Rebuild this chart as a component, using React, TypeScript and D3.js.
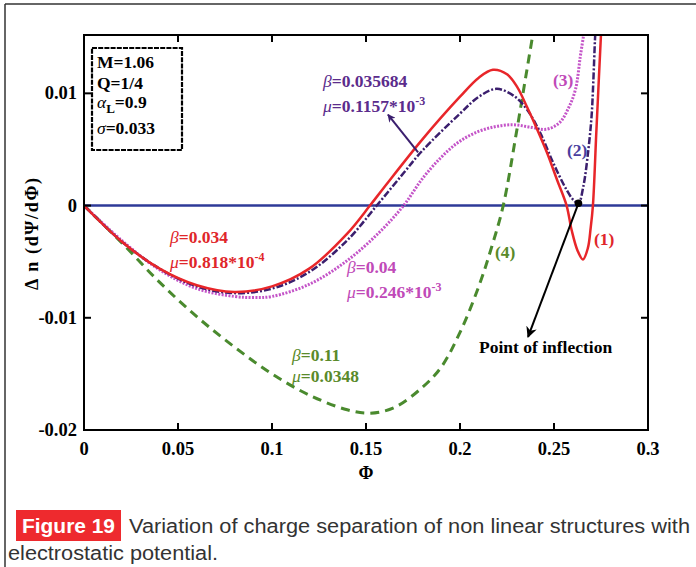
import * as d3 from 'd3';

// curve (1) beta=0.034
const phi1 = [0, 0.02, 0.04, 0.06, 0.08, 0.1, 0.12, 0.14, 0.1521, 0.16, 0.18, 0.2, 0.21, 0.2175, 0.225, 0.2303, 0.2356, 0.241, 0.2463, 0.2516, 0.2567, 0.2594, 0.2625, 0.2654, 0.268, 0.2695, 0.2707, 0.2725, 0.274, 0.2755];
const dn1 = [0, -0.0032, -0.0056, -0.0071, -0.0077, -0.0072, -0.0056, -0.0025, 0, 0.0017, 0.0059, 0.0097, 0.0114, 0.0121, 0.0117, 0.0106, 0.0088, 0.0068, 0.0047, 0.0023, 0, -0.0022, -0.004, -0.0048, -0.0038, -0.002, 0, 0.0065, 0.0118, 0.017];

// curve (2) beta=0.035684
const phi2 = [0, 0.02, 0.04, 0.06, 0.08, 0.1, 0.12, 0.14, 0.1557, 0.17, 0.18, 0.2, 0.21, 0.2195, 0.2284, 0.2355, 0.2426, 0.2496, 0.2567, 0.2603, 0.263, 0.2656, 0.2683, 0.27, 0.2709, 0.2718, 0.2725];
const dn2 = [0, -0.0032, -0.0056, -0.0072, -0.0078, -0.0074, -0.0059, -0.0031, 0, 0.0029, 0.0049, 0.0082, 0.0097, 0.0104, 0.0098, 0.0086, 0.0065, 0.0038, 0.0014, 0.0005, 0.0002, 0.0017, 0.005, 0.008, 0.011, 0.0148, 0.017];

// curve (3) beta=0.04
const phi3 = [0, 0.02, 0.04, 0.06, 0.08, 0.09, 0.1, 0.12, 0.14, 0.157, 0.17, 0.18, 0.1894, 0.198, 0.207, 0.2177, 0.228, 0.237, 0.246, 0.253, 0.258, 0.2615, 0.264, 0.266, 0.267];
const dn3 = [0, -0.0031, -0.0057, -0.0074, -0.0081, -0.0082, -0.0081, -0.007, -0.0049, -0.0024, 0, 0.0024, 0.0042, 0.0055, 0.0064, 0.007, 0.0072, 0.007, 0.0068, 0.0074, 0.0088, 0.0104, 0.0133, 0.0155, 0.017];

// curve (4) beta=0.11
const phi4 = [0, 0.02, 0.04, 0.06, 0.08, 0.1, 0.12, 0.14, 0.152, 0.165, 0.18, 0.19, 0.2, 0.21, 0.217, 0.223, 0.23, 0.235, 0.239, 0.241];
const dn4 = [0, -0.0033, -0.0068, -0.0099, -0.0126, -0.015, -0.0169, -0.0182, -0.0185, -0.018, -0.0162, -0.0144, -0.0113, -0.0072, -0.0036, 0, 0.0065, 0.0115, 0.0155, 0.0175];

const xTicks = [0, 0.05, 0.1, 0.15, 0.2, 0.25, 0.3];
const xTickLabels = ['0', '0.05', '0.1', '0.15', '0.2', '0.25', '0.3'];
const yTicks = [-0.02, -0.01, 0, 0.01];
const yTickLabels = ['-0.02', '-0.01', '0', '0.01'];

const inflection = [0.263, 0.0002];

const W = 696;
const H = 567;
const left = 84, right = 648, top = 35, bottom = 430;
const serif = "'Liberation Serif', 'Times New Roman', serif";
const sans = "'Liberation Sans', Arial, sans-serif";

export default function App() {
  const x = d3.scaleLinear().domain([0, 0.3]).range([left, right]);
  const y = d3.scaleLinear().domain([-0.02, 0.0152]).range([bottom, top]);

  const line = d3.line<[number, number]>()
    .x(d => x(d[0]))
    .y(d => y(d[1]))
    .curve(d3.curveCatmullRom.alpha(0.5));

  const path = (p: number[], v: number[]) => line(d3.zip(p, v) as [number, number][]) || '';

  const ix = x(inflection[0]);
  const iy = y(inflection[1]);

  const tick = 7;
  const fs = 17.5;

  return (
    <svg width={W} height={H} style={{ position: 'absolute', left: 0, top: 0, background: '#fff' }}
      fontFamily={serif}>
      <defs>
        <clipPath id="plot">
          <rect x={left} y={top} width={right - left} height={bottom - top} />
        </clipPath>
        <marker id="headP" viewBox="0 0 10 10" refX="9" refY="5" markerWidth="8" markerHeight="8" orient="auto-start-reverse" markerUnits="userSpaceOnUse">
          <path d="M0,0 L10,5 L0,10 L3,5 Z" fill="#3b1f6e" />
        </marker>
        <marker id="headK" viewBox="0 0 10 10" refX="9" refY="5" markerWidth="11" markerHeight="11" orient="auto-start-reverse" markerUnits="userSpaceOnUse">
          <path d="M0,0 L10,5 L0,10 L3,5 Z" fill="#000" />
        </marker>
      </defs>

      {/* outer frame */}
      <line x1={5} x2={5} y1={4} y2={H} stroke="#333" strokeWidth={1.5} />
      <line x1={5} x2={W} y1={4} y2={4} stroke="#333" strokeWidth={1.5} />

      {/* zero line */}
      <line x1={left} x2={right} y1={y(0)} y2={y(0)} stroke="#2e3a98" strokeWidth={2.5} />

      <g clipPath="url(#plot)" fill="none">
        <path d={path(phi4, dn4)} stroke="#4a8a2e" strokeWidth={3} strokeDasharray="9,6" />
        <path d={path(phi3, dn3)} stroke="#c455c8" strokeWidth={3} strokeDasharray="2,1.4" />
        <path d={path(phi2, dn2)} stroke="#3b1f6e" strokeWidth={2.5} strokeDasharray="7,2,2,2" />
        <path d={path(phi1, dn1)} stroke="#e8262a" strokeWidth={2.5} />
      </g>

      {/* axes box and ticks */}
      <rect x={left} y={top} width={right - left} height={bottom - top} fill="none" stroke="#000" strokeWidth={2} />
      {xTicks.map((t, i) => (
        <g key={'xt' + i}>
          <line x1={x(t)} x2={x(t)} y1={bottom} y2={bottom - tick} stroke="#000" strokeWidth={2} />
          <line x1={x(t)} x2={x(t)} y1={top} y2={top + tick} stroke="#000" strokeWidth={2} />
          <text x={x(t)} y={455} textAnchor="middle" fontWeight="bold" fontSize={18.5}>{xTickLabels[i]}</text>
        </g>
      ))}
      {yTicks.map((t, i) => (
        <g key={'yt' + i}>
          <line x1={left} x2={left + tick} y1={y(t)} y2={y(t)} stroke="#000" strokeWidth={2} />
          <line x1={right} x2={right - tick} y1={y(t)} y2={y(t)} stroke="#000" strokeWidth={2} />
          <text x={77} y={y(t) + 6} textAnchor="end" fontWeight="bold" fontSize={18.5}>{yTickLabels[i]}</text>
        </g>
      ))}

      {/* axis titles */}
      <text x={366} y={479} textAnchor="middle" fontWeight="bold" fontSize={18}>Φ</text>
      <text transform="translate(38,234) rotate(-90)" textAnchor="middle" fontWeight="bold" fontSize={18}
        textLength={112} lengthAdjust="spacing">Δ n (dΨ/dΦ)</text>

      {/* parameter box */}
      <rect x={92} y={48} width={90} height={102} fill="#fff" stroke="#000" strokeWidth={2.2} strokeDasharray="5,1.2" />
      <g fontWeight="bold" fontSize={fs}>
        <text x={97} y={68}>M=1.06</text>
        <text x={97} y={89}>Q=1/4</text>
        <text x={97} y={108}><tspan fontStyle="italic" fontWeight="normal">α</tspan><tspan dy={5} fontSize={13}>L</tspan><tspan dy={-5}>=0.9</tspan></text>
        <text x={97} y={134}><tspan fontStyle="italic" fontWeight="normal">σ</tspan>=0.033</text>
      </g>

      {/* curve annotations */}
      <g fontWeight="bold" fontSize={fs}>
        <text x={323} y={87} fill="#5b2c8c"><tspan fontStyle="italic" fontWeight="normal">β</tspan>=0.035684</text>
        <text x={323} y={112} fill="#5b2c8c"><tspan fontStyle="italic" fontWeight="normal">μ</tspan>=0.1157*10<tspan dy={-7} fontSize={12}>-3</tspan></text>

        <text x={170} y={243} fill="#e0262a"><tspan fontStyle="italic" fontWeight="normal">β</tspan>=0.034</text>
        <text x={170} y={268} fill="#e0262a"><tspan fontStyle="italic" fontWeight="normal">μ</tspan>=0.818*10<tspan dy={-7} fontSize={12}>-4</tspan></text>

        <text x={347} y={273} fill="#c04ab8"><tspan fontStyle="italic" fontWeight="normal">β</tspan>=0.04</text>
        <text x={347} y={298} fill="#c04ab8"><tspan fontStyle="italic" fontWeight="normal">μ</tspan>=0.246*10<tspan dy={-7} fontSize={12}>-3</tspan></text>

        <text x={292} y={361} fill="#5a8a2a"><tspan fontStyle="italic" fontWeight="normal">β</tspan>=0.11</text>
        <text x={292} y={382} fill="#5a8a2a"><tspan fontStyle="italic" fontWeight="normal">μ</tspan>=0.0348</text>

        <text x={594} y={245} fill="#e0262a">(1)</text>
        <text x={567} y={156} fill="#4b3fa0">(2)</text>
        <text x={553} y={86} fill="#c04ab8">(3)</text>
        <text x={495} y={258} fill="#5a8a2a">(4)</text>

        <text x={479} y={353} fill="#000">Point of inflection</text>
      </g>

      {/* arrows */}
      <line x1={x(0.1777)} y1={y(0.00473)} x2={x(0.1617)} y2={y(0.0081)} stroke="#3b1f6e" strokeWidth={2} markerEnd="url(#headP)" />
      <line x1={ix} y1={iy} x2={x(0.2362)} y2={y(-0.0117)} stroke="#000" strokeWidth={2} markerEnd="url(#headK)" />
      <circle cx={ix} cy={iy} r={3.8} fill="#000" />

      {/* caption */}
      <rect x={16} y={510} width={105} height={31} fill="#ee2a2e" />
      <text x={22} y={533} fill="#fff" fontFamily={sans} fontWeight="bold" fontSize={21} textLength={93} lengthAdjust="spacingAndGlyphs">Figure 19</text>
      <text x={129} y={533} fill="#333" fontFamily={sans} fontSize={20} textLength={561} lengthAdjust="spacingAndGlyphs">Variation of charge separation of non linear structures with</text>
      <text x={8} y={560} fill="#333" fontFamily={sans} fontSize={20} textLength={210} lengthAdjust="spacingAndGlyphs">electrostatic potential.</text>
    </svg>
  );
}
